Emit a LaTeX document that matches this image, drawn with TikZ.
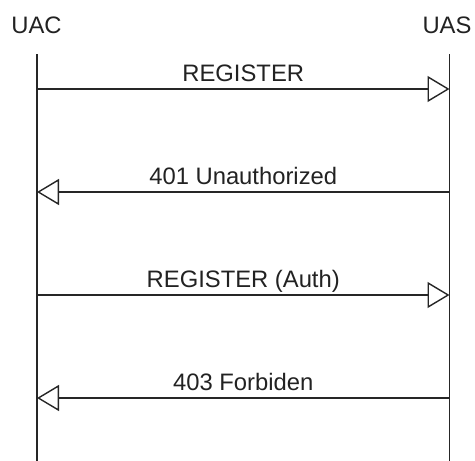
\documentclass[tikz,border=0pt]{standalone}
\usepackage{fontspec}
\setmainfont{Liberation Sans}
\usepackage{tikz}
\usetikzlibrary{arrows.meta,calc,positioning}
\definecolor{linedark}{RGB}{38,38,38}
\definecolor{textdark}{RGB}{34,34,34}
\newcommand{\seqfont}{\fontsize{23.8}{28}\selectfont}
\tikzset{
  actor/.style={font=\seqfont,text=textdark,inner sep=0pt,anchor=base},
  lifeline/.style={draw=linedark,line width=1.4pt},
  msg/.style={-{Triangle[open,length=22pt,width=26pt,line width=1.4pt]},
    line width=1.3pt,draw=linedark},
  msglabel/.style={font=\seqfont,text=textdark,inner sep=0pt,anchor=base}
}

\begin{document}
\begin{tikzpicture}[x=1pt,y=-1pt]
  \useasboundingbox (0,0) rectangle (475,461);
  \node[actor] (uac) at (36.5,33) {UAC};
  \node[actor] (uas) at (447,33) {UAS};
  % lifelines
  \coordinate (uactop) at (37,54);
  \coordinate (uacbot) at (37,461);
  \coordinate (uastop) at (449.5,54);
  \coordinate (uasbot) at (449.5,461);
  \draw[lifeline] (uactop) -- (uacbot);
  \draw[lifeline] (uastop) -- (uasbot);
  % message ends
  \coordinate (c1) at (37,89);    \coordinate (s1) at (449.5,89);
  \coordinate (c2) at (37,192);   \coordinate (s2) at (449.5,192);
  \coordinate (c3) at (37,295);   \coordinate (s3) at (449.5,295);
  \coordinate (c4) at (37,398);   \coordinate (s4) at (449.5,398);
  % messages
  \draw[msg] (c1) -- (s1);
  \node[msglabel] (register) at ($(c1)!0.5!(s1)+(0,-7.5)$) {REGISTER};
  \draw[msg] (s2) -- (c2);
  \node[msglabel] (unauth) at ($(c2)!0.5!(s2)+(0,-7.5)$) {401 Unauthorized};
  \draw[msg] (c3) -- (s3);
  \node[msglabel] (regauth) at ($(c3)!0.5!(s3)+(0,-7.5)$) {REGISTER (Auth)};
  \draw[msg] (s4) -- (c4);
  \node[msglabel] (forbid) at ($(c4)!0.5!(s4)+(0,-7.5)$) {403 Forbiden};
\end{tikzpicture}
\end{document}
